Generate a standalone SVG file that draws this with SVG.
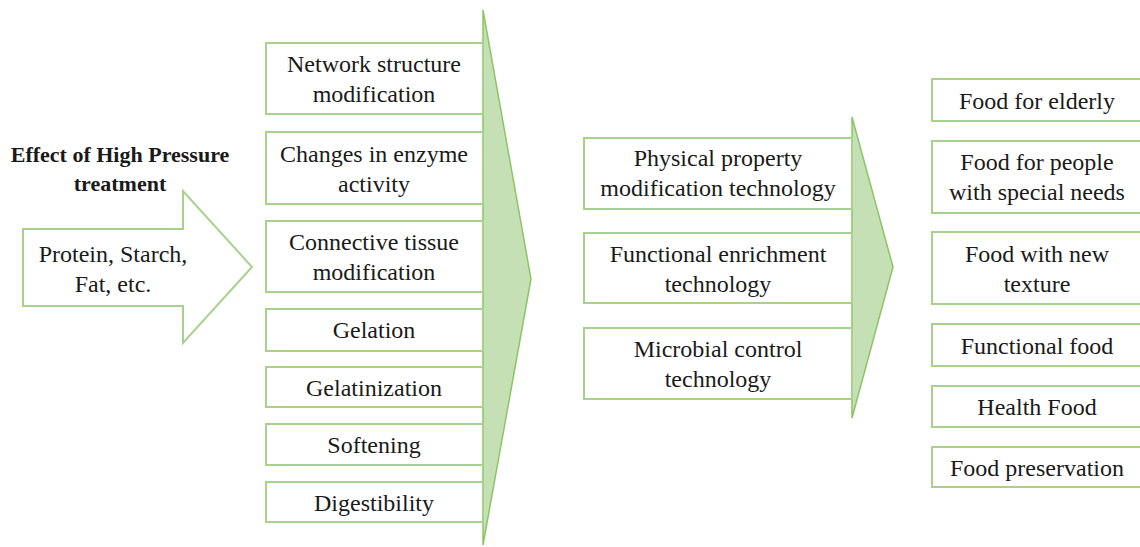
<svg xmlns="http://www.w3.org/2000/svg" width="1140" height="547" viewBox="0 0 1140 547">
<style>
.box{fill:#ffffff;stroke:#a9d18e;stroke-width:2}
.chev{fill:#c5e0b4;stroke:#8cc663;stroke-width:1.5}
.arr{fill:#ffffff;stroke:#a9d18e;stroke-width:2}
text{font-family:"Liberation Serif","DejaVu Serif",serif;font-size:24px;fill:#1a1a1a;text-anchor:middle}
.title{font-weight:bold;font-size:22px}
</style>
<rect width="1140" height="547" fill="#ffffff"/>
<g id="connectors">
<polygon class="chev" points="483,10 531,279 483,545"/>
<polygon class="chev" points="852,117 893,267 852,418"/>
</g>
<g id="title"><text class="title" x="120" y="162">Effect of High Pressure</text><text class="title" x="120" y="191">treatment</text></g>
<g id="input"><polygon class="arr" points="23,229 183,229 183,191 252,267 183,343 183,306 23,306"/><text x="113" y="262">Protein, Starch,</text><text x="113" y="292">Fat, etc.</text></g>
<g id="n1"><rect class="box" x="266" y="43" width="217" height="71"/><text x="374" y="72">Network structure</text><text x="374" y="102">modification</text></g>
<g id="n2"><rect class="box" x="266" y="132" width="217" height="72"/><text x="374" y="162">Changes in enzyme</text><text x="374" y="192">activity</text></g>
<g id="n3"><rect class="box" x="266" y="221" width="217" height="71"/><text x="374" y="250">Connective tissue</text><text x="374" y="280">modification</text></g>
<g id="n4"><rect class="box" x="266" y="309" width="217" height="42"/><text x="374" y="338">Gelation</text></g>
<g id="n5"><rect class="box" x="266" y="367" width="217" height="40"/><text x="374" y="396">Gelatinization</text></g>
<g id="n6"><rect class="box" x="266" y="424" width="217" height="41"/><text x="374" y="453">Softening</text></g>
<g id="n7"><rect class="box" x="266" y="482" width="217" height="40"/><text x="374" y="511">Digestibility</text></g>
<g id="t1"><rect class="box" x="584" y="138" width="268" height="71"/><text x="718" y="166">Physical property</text><text x="718" y="196">modification technology</text></g>
<g id="t2"><rect class="box" x="584" y="233" width="268" height="70"/><text x="718" y="262">Functional enrichment</text><text x="718" y="292">technology</text></g>
<g id="t3"><rect class="box" x="584" y="328" width="268" height="71"/><text x="718" y="357">Microbial control</text><text x="718" y="387">technology</text></g>
<g id="f1"><rect class="box" x="932" y="79" width="212" height="42"/><text x="1037" y="109">Food for elderly</text></g>
<g id="f2"><rect class="box" x="932" y="141" width="212" height="72"/><text x="1037" y="170">Food for people</text><text x="1037" y="200">with special needs</text></g>
<g id="f3"><rect class="box" x="932" y="232" width="212" height="72"/><text x="1037" y="262">Food with new</text><text x="1037" y="292">texture</text></g>
<g id="f4"><rect class="box" x="932" y="324" width="212" height="42"/><text x="1037" y="354">Functional food</text></g>
<g id="f5"><rect class="box" x="932" y="386" width="212" height="41"/><text x="1037" y="415">Health Food</text></g>
<g id="f6"><rect class="box" x="932" y="447" width="212" height="40"/><text x="1037" y="476">Food preservation</text></g>
</svg>
